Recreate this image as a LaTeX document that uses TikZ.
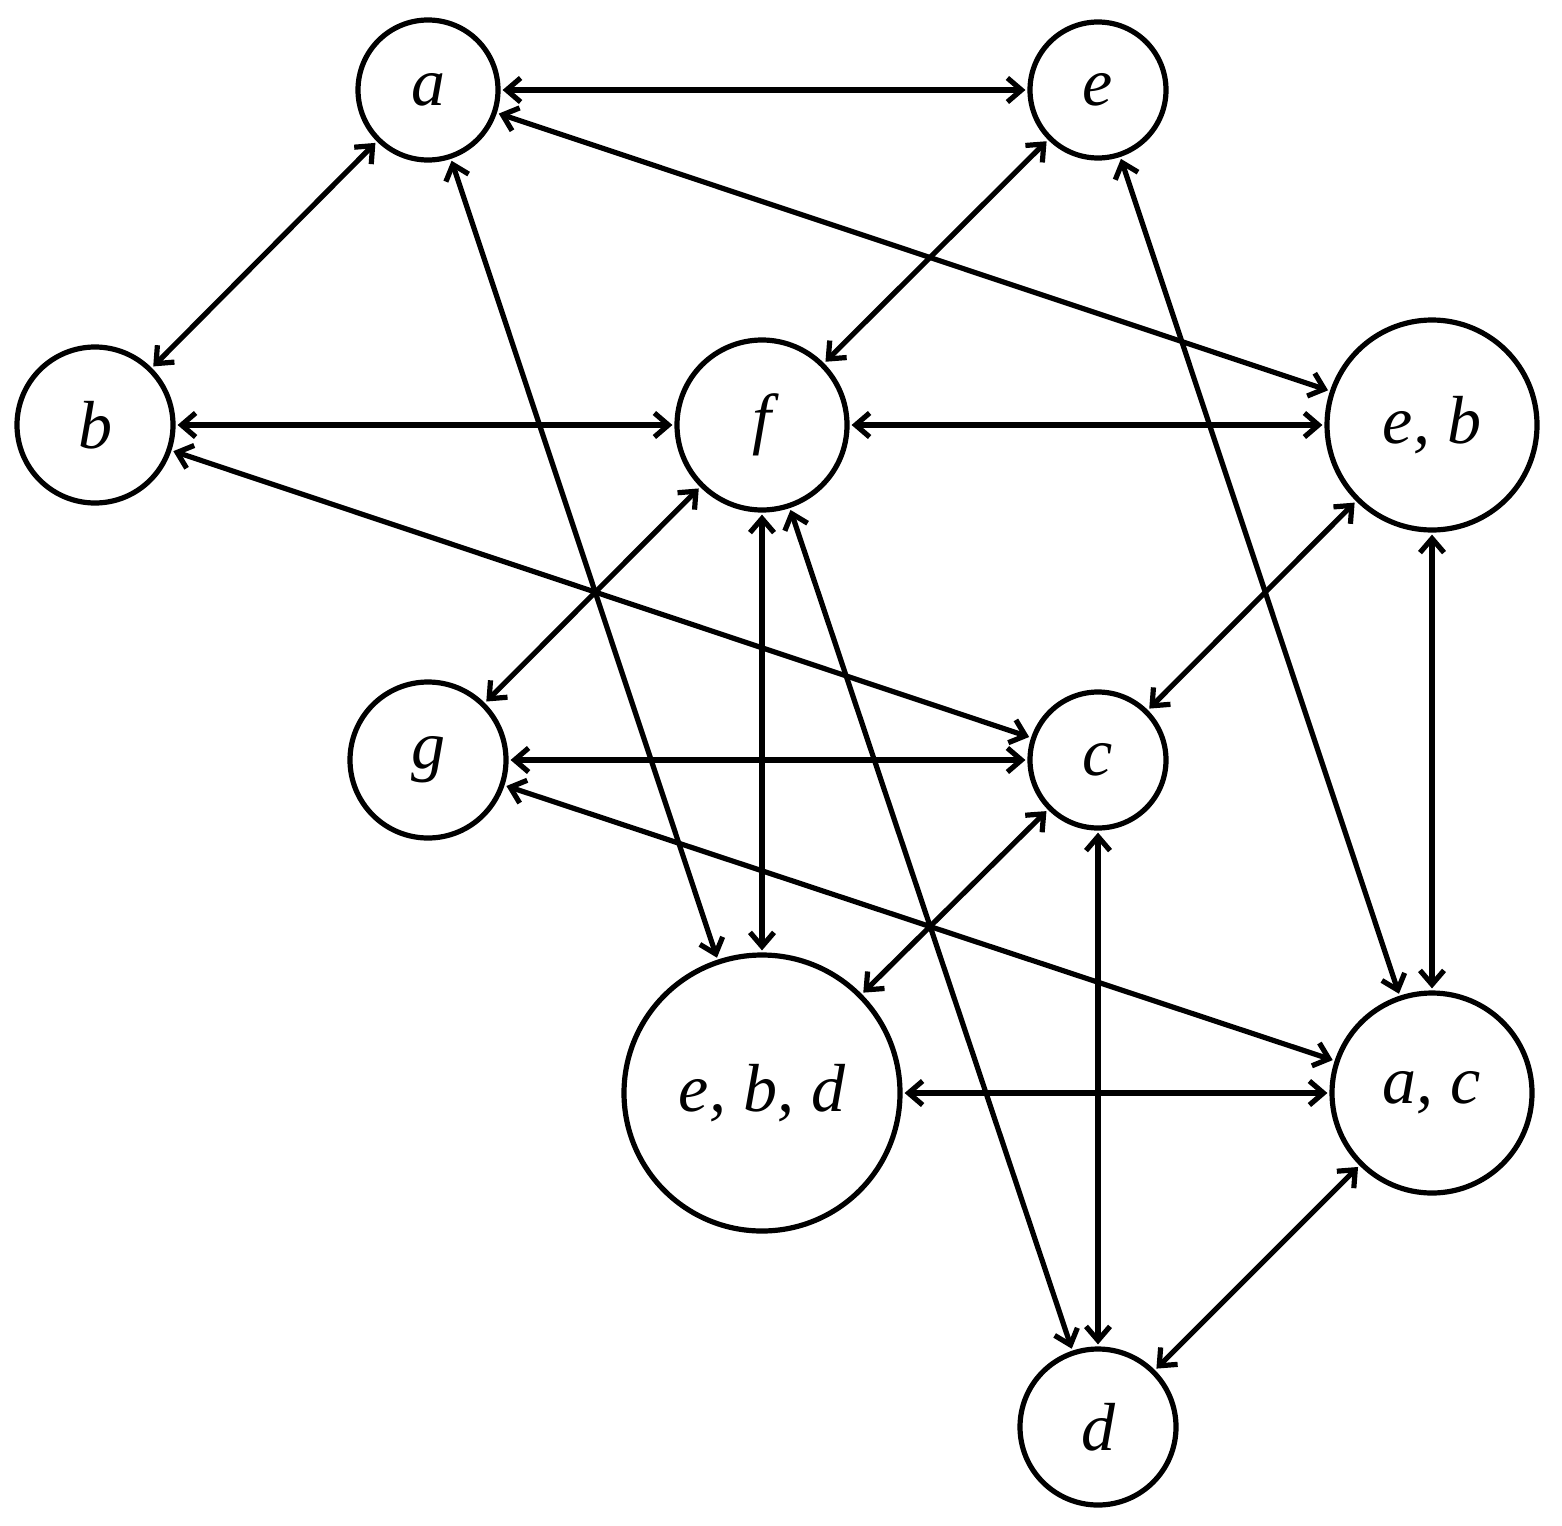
\documentclass[tikz,border=0pt]{standalone}
\usepackage{fontspec}
\setmainfont{Liberation Serif}
\usetikzlibrary{arrows.meta}
\begin{document}
\begin{tikzpicture}[x=0.5pt,y=-0.5pt,
  st/.style={circle,draw,line width=2.6pt,inner sep=0pt,font=\fontsize{34}{40}\selectfont\itshape},
  ed/.style={line width=2.6pt,{Straight Barb[length=7pt,width=12pt]}-{Straight Barb[length=7pt,width=12pt]},shorten <=1pt,shorten >=1pt}]
\useasboundingbox (0,0) rectangle (1562,1525);
\node[st,minimum size=70pt] (a) at (428,90) {a};
\node[st,minimum size=68pt] (e) at (1098,90) {e};
\node[st,minimum size=78pt] (b) at (95,425) {b};
\node[st,minimum size=85pt] (f) at (762,425) {f};
\node[st,minimum size=105pt] (eb) at (1432,425) {e, b};
\node[st,minimum size=78pt] (g) at (428,760) {g};
\node[st,minimum size=68pt] (c) at (1098,760) {c};
\node[st,minimum size=138pt] (ebd) at (762,1093) {e, b, d};
\node[st,minimum size=100pt] (ac) at (1432,1093) {a, c};
\node[st,minimum size=78pt] (d) at (1098,1427) {d};
\foreach \u/\v in {a/e,a/b,a/eb,a/ebd,e/f,e/ac,b/f,b/c,f/eb,f/g,f/ebd,f/d,eb/c,eb/ac,g/c,g/ac,c/ebd,c/d,ebd/ac,ac/d}
  \draw[ed] (\u) -- (\v);
\end{tikzpicture}
\end{document}
